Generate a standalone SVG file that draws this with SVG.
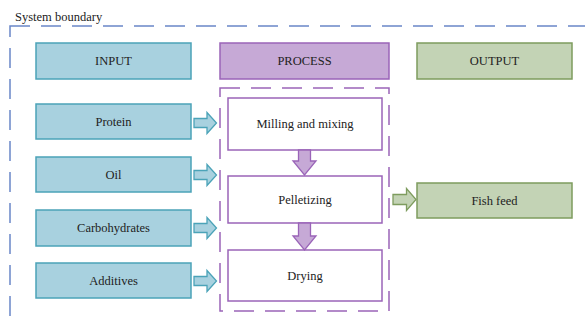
<svg xmlns="http://www.w3.org/2000/svg" width="585" height="326" viewBox="0 0 585 326">
<style>
text{font-family:'Liberation Serif','Times New Roman',Times,'DejaVu Serif',serif;font-size:12.5px;fill:#222;text-anchor:middle;dominant-baseline:central}
.in{fill:#a8d1df;stroke:#4ba3b8;stroke-width:1.5}
.pr{fill:#c6a9d6;stroke:#9a64b8;stroke-width:1.5}
.out{fill:#c3d3b5;stroke:#7e9c5e;stroke-width:1.5}
.step{fill:#fff;stroke:#9a64b8;stroke-width:1.5}
.ain{fill:#a8d1df;stroke:#4ba3b8;stroke-width:1.3}
.apr{fill:#c6a9d6;stroke:#9a64b8;stroke-width:1.3}
.aout{fill:#c3d3b5;stroke:#7e9c5e;stroke-width:1.3}
</style>
<rect width="585" height="326" fill="#fff"/>
<g id="system-boundary">
<rect x="10" y="26" width="600" height="320" fill="none" stroke="#6a86c8" stroke-width="1.5" stroke-dasharray="20,11"/>
<text x="15" y="17" style="text-anchor:start">System boundary</text>
</g>
<g id="process-boundary">
<rect x="220" y="88" width="169" height="223" fill="none" stroke="#9a64b8" stroke-width="1.5" stroke-dasharray="20,11"/>
</g>
<g id="input"><rect class="in" x="36" y="43" width="155" height="36"/><text x="113.5" y="61">INPUT</text></g>
<g id="process"><rect class="pr" x="220" y="43" width="169" height="36"/><text x="304.5" y="61">PROCESS</text></g>
<g id="output"><rect class="out" x="417" y="43" width="155" height="36"/><text x="494.5" y="61">OUTPUT</text></g>
<g id="protein"><rect class="in" x="36" y="104" width="155" height="35"/><text x="113.5" y="121.5">Protein</text></g>
<g id="oil"><rect class="in" x="36" y="157" width="155" height="35"/><text x="113.5" y="174.5">Oil</text></g>
<g id="carbohydrates"><rect class="in" x="36" y="210" width="155" height="36"/><text x="113.5" y="228">Carbohydrates</text></g>
<g id="additives"><rect class="in" x="36" y="263" width="155" height="35"/><text x="113.5" y="280.5">Additives</text></g>
<g id="milling"><rect class="step" x="228" y="98" width="154" height="52"/><text x="305" y="124">Milling and mixing</text></g>
<g id="pelletizing"><rect class="step" x="228" y="176" width="154" height="47"/><text x="305" y="199.5">Pelletizing</text></g>
<g id="drying"><rect class="step" x="228" y="250" width="154" height="51"/><text x="305" y="275.5">Drying</text></g>
<g id="fish-feed"><rect class="out" x="417" y="183" width="155" height="35"/><text x="494.5" y="200.5">Fish feed</text></g>
<g id="connectors">
<path class="ain" d="M194,118.5 H207 V112.5 L216.5,123 L207,133.5 V127.5 H194 Z"/>
<path class="ain" d="M194,170.5 H207 V164.5 L216.5,175 L207,185.5 V179.5 H194 Z"/>
<path class="ain" d="M194,223.5 H207 V217.5 L216.5,228 L207,238.5 V232.5 H194 Z"/>
<path class="ain" d="M194,276.5 H207 V270.5 L216.5,281 L207,291.5 V285.5 H194 Z"/>
<path class="apr" d="M298.5,150 V161 H293 L304.5,175 L316,161 H310.5 V150 Z"/>
<path class="apr" d="M298.5,223 V236 H293 L304.5,250 L316,236 H310.5 V223 Z"/>
<path class="aout" d="M393,194.5 H406.5 V188.5 L416,199.5 L406.5,210.5 V204.5 H393 Z"/>
</g>
</svg>
